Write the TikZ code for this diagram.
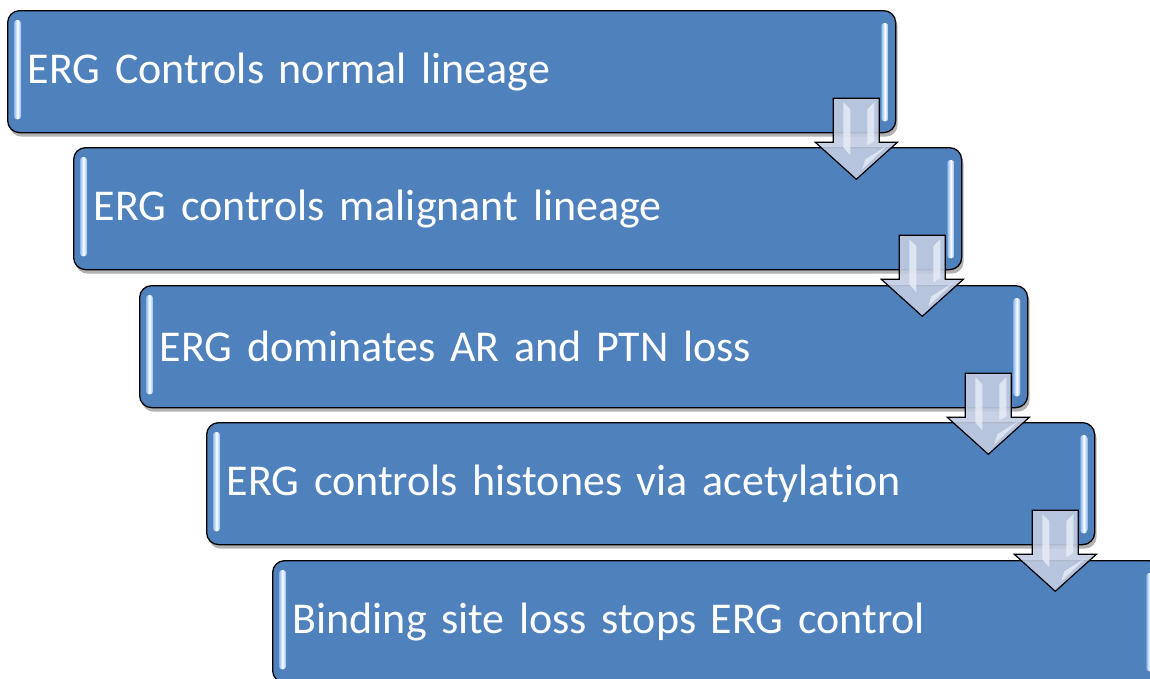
\documentclass[tikz,border=0pt]{standalone}
\usepackage{fontspec}
\setmainfont{Carlito}[Ligatures=CommonOff]
\usetikzlibrary{calc,shadows}
\definecolor{boxblue}{HTML}{4F81BD}
\definecolor{hilite}{HTML}{8DB8EA}
\definecolor{arrowfill}{HTML}{C2CCE2}
\definecolor{arrowlight}{HTML}{E9EEF7}
\tikzset{
  stepbox/.style={draw=black, line width=1.3pt, fill=boxblue, rounded corners=12pt,
    minimum width=888pt, minimum height=122pt, text width=848pt, inner xsep=20pt,
    align=left, anchor=north west, text=white, font=\fontsize{44}{52}\selectfont,
    drop shadow={shadow xshift=2pt, shadow yshift=-4pt, opacity=0.3, fill=black}},
  hibar/.style={rounded corners=3pt, left color=hilite, right color=hilite, middle color=white},
  downarrow/.style={draw=black, line width=1.2pt, line join=miter, fill=arrowfill, fill opacity=0.9},
  streak/.style={fill=arrowlight, draw=none, fill opacity=0.8},
}
\newcommand{\glossbars}[1]{%
  \path[hibar] ($(#1.north west)+(7,10)$) rectangle ($(#1.south west)+(14,-14)$);
  \path[hibar] ($(#1.north east)+(-15,13)$) rectangle ($(#1.south east)+(-8,-12)$);
}
\newcommand{\steparrow}[2]{%
  \coordinate (#2) at ($(#1.south east)+(-40,0)$);
  \path[downarrow] ($(#2)+(-23,-35)$) -- ($(#2)+(23,-35)$) -- ($(#2)+(23,9)$) -- ($(#2)+(41,9)$)
     -- ($(#2)+(0,46)$) -- ($(#2)+(-41,9)$) -- ($(#2)+(-23,9)$) -- cycle;
  \path[streak] ($(#2)+(-13,-31)$) -- ($(#2)+(-6,-24)$) -- ($(#2)+(-6,22)$) -- ($(#2)+(-13,14)$) -- cycle;
  \path[streak] ($(#2)+(18,-31)$) -- ($(#2)+(11,-24)$) -- ($(#2)+(11,12)$) -- ($(#2)+(18,8)$) -- cycle;
  \path[streak] ($(#2)+(30,13)$) -- ($(#2)+(6,36)$) -- ($(#2)+(9,26)$) -- cycle;
}
\begin{document}
\begin{tikzpicture}[x=1pt,y=-1pt]
\useasboundingbox (0,0) rectangle (1150,678);
\clip (0,0) rectangle (1150,678);
\node[stepbox] (b1) at (7,10)   {ERG Controls normal lineage};
\node[stepbox] (b2) at (73,147) {ERG controls malignant lineage};
\node[stepbox] (b3) at (139,285) {ERG dominates AR and PTN loss};
\node[stepbox] (b4) at (206,422) {ERG controls histones via acetylation};
\node[stepbox] (b5) at (272,560) {Binding site loss stops ERG control};
\glossbars{b1}
\glossbars{b2}
\glossbars{b3}
\glossbars{b4}
\glossbars{b5}
\steparrow{b1}{a1}
\steparrow{b2}{a2}
\steparrow{b3}{a3}
\steparrow{b4}{a4}
\end{tikzpicture}
\end{document}
